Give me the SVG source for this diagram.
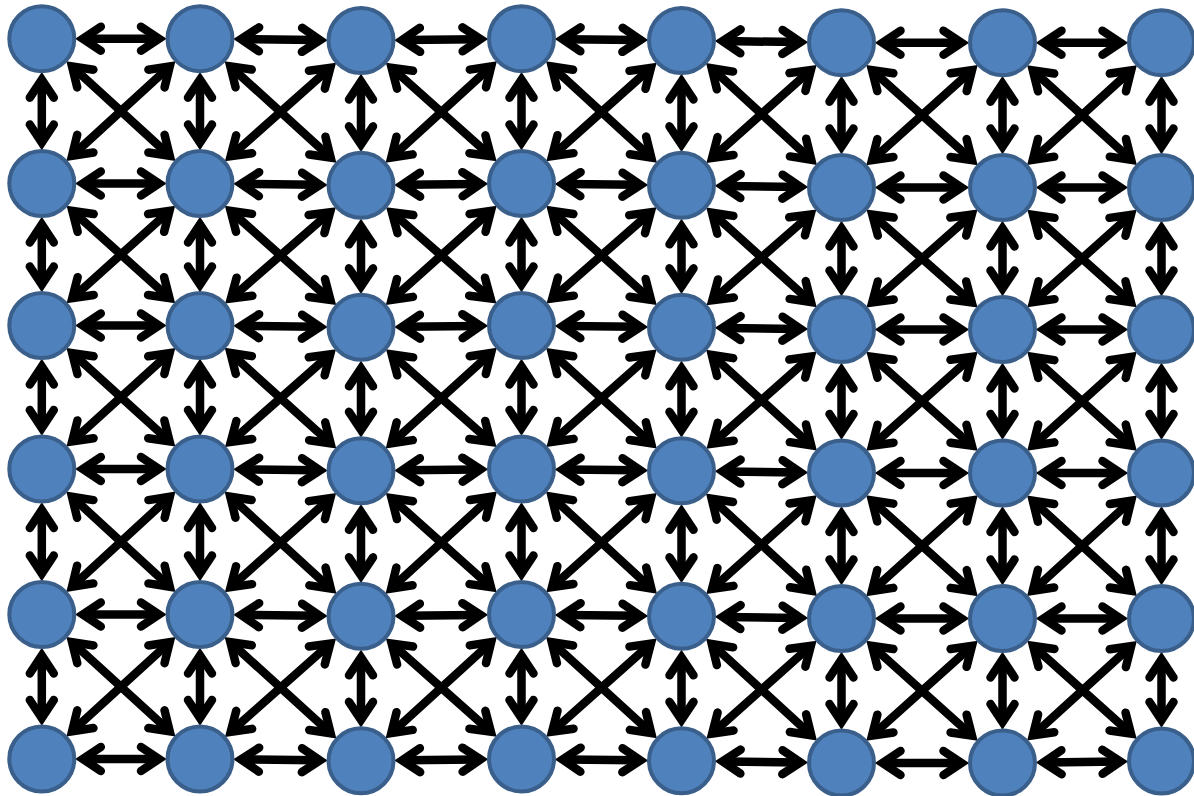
<svg xmlns="http://www.w3.org/2000/svg" width="1194" height="796" viewBox="0 0 1194 796">
<style>
.node circle { fill:#4f81bd; stroke:#3a5f8b; stroke-width:4; }
#connectors line { stroke:#000; stroke-width:8.5; fill:none; stroke-linecap:butt; marker-start:url(#ah); marker-end:url(#ah); }
#connectors .h { stroke-dasharray:0 43.5 73 400; }
#connectors .v { stroke-dasharray:0 43.5 57 400; }
#connectors .d { stroke-dasharray:0 43.5 128 400; }
</style>
<defs>
<marker id="ah" viewBox="-30 -20 80 40" markerWidth="80" markerHeight="40" refX="41" refY="0" orient="auto-start-reverse" markerUnits="userSpaceOnUse" overflow="visible">
<path d="M-18,-12 L0,0 L-18,12" fill="none" stroke="#000" stroke-width="8.5" stroke-linecap="round" stroke-linejoin="miter"/>
</marker>
</defs>
<rect width="1194" height="796" fill="#fff"/>
<g id="connectors">
<line class="h" x1="41.8" y1="38.7" x2="200" y2="38.7"/>
<line class="h" x1="200" y1="38.7" x2="361" y2="40.5"/>
<line class="h" x1="361" y1="40.5" x2="521.5" y2="38.7"/>
<line class="h" x1="521.5" y1="38.7" x2="681.5" y2="40.5"/>
<line class="h" x1="681.5" y1="40.5" x2="841.5" y2="42.7"/>
<line class="h" x1="841.5" y1="42.7" x2="1002.5" y2="42.7"/>
<line class="h" x1="1002.5" y1="42.7" x2="1161.5" y2="42.7"/>
<line class="h" x1="41.8" y1="183.5" x2="200" y2="183.5"/>
<line class="h" x1="200" y1="183.5" x2="361" y2="185.3"/>
<line class="h" x1="361" y1="185.3" x2="521.5" y2="183.5"/>
<line class="h" x1="521.5" y1="183.5" x2="681.5" y2="185.3"/>
<line class="h" x1="681.5" y1="185.3" x2="841.5" y2="187.5"/>
<line class="h" x1="841.5" y1="187.5" x2="1002.5" y2="187.5"/>
<line class="h" x1="1002.5" y1="187.5" x2="1161.5" y2="187.5"/>
<line class="h" x1="41.8" y1="325.5" x2="200" y2="325.5"/>
<line class="h" x1="200" y1="325.5" x2="361" y2="327.3"/>
<line class="h" x1="361" y1="327.3" x2="521.5" y2="325.5"/>
<line class="h" x1="521.5" y1="325.5" x2="681.5" y2="327.3"/>
<line class="h" x1="681.5" y1="327.3" x2="841.5" y2="329.5"/>
<line class="h" x1="841.5" y1="329.5" x2="1002.5" y2="329.5"/>
<line class="h" x1="1002.5" y1="329.5" x2="1161.5" y2="329.5"/>
<line class="h" x1="41.8" y1="469" x2="200" y2="469"/>
<line class="h" x1="200" y1="469" x2="361" y2="470.8"/>
<line class="h" x1="361" y1="470.8" x2="521.5" y2="469"/>
<line class="h" x1="521.5" y1="469" x2="681.5" y2="470.8"/>
<line class="h" x1="681.5" y1="470.8" x2="841.5" y2="473"/>
<line class="h" x1="841.5" y1="473" x2="1002.5" y2="473"/>
<line class="h" x1="1002.5" y1="473" x2="1161.5" y2="473"/>
<line class="h" x1="41.8" y1="614.5" x2="200" y2="614.5"/>
<line class="h" x1="200" y1="614.5" x2="361" y2="616.3"/>
<line class="h" x1="361" y1="616.3" x2="521.5" y2="614.5"/>
<line class="h" x1="521.5" y1="614.5" x2="681.5" y2="616.3"/>
<line class="h" x1="681.5" y1="616.3" x2="841.5" y2="618.5"/>
<line class="h" x1="841.5" y1="618.5" x2="1002.5" y2="618.5"/>
<line class="h" x1="1002.5" y1="618.5" x2="1161.5" y2="618.5"/>
<line class="h" x1="41.8" y1="759" x2="200" y2="759"/>
<line class="h" x1="200" y1="759" x2="361" y2="760.8"/>
<line class="h" x1="361" y1="760.8" x2="521.5" y2="759"/>
<line class="h" x1="521.5" y1="759" x2="681.5" y2="760.8"/>
<line class="h" x1="681.5" y1="760.8" x2="841.5" y2="763"/>
<line class="h" x1="841.5" y1="763" x2="1002.5" y2="763"/>
<line class="h" x1="1002.5" y1="763" x2="1161.5" y2="761"/>

<line class="v" x1="41.8" y1="38.7" x2="41.8" y2="183.5"/>
<line class="v" x1="41.8" y1="183.5" x2="41.8" y2="325.5"/>
<line class="v" x1="41.8" y1="325.5" x2="41.8" y2="469"/>
<line class="v" x1="41.8" y1="469" x2="41.8" y2="614.5"/>
<line class="v" x1="41.8" y1="614.5" x2="41.8" y2="759"/>
<line class="v" x1="200" y1="38.7" x2="200" y2="183.5"/>
<line class="v" x1="200" y1="183.5" x2="200" y2="325.5"/>
<line class="v" x1="200" y1="325.5" x2="200" y2="469"/>
<line class="v" x1="200" y1="469" x2="200" y2="614.5"/>
<line class="v" x1="200" y1="614.5" x2="200" y2="759"/>
<line class="v" x1="361" y1="40.5" x2="361" y2="185.3"/>
<line class="v" x1="361" y1="185.3" x2="361" y2="327.3"/>
<line class="v" x1="361" y1="327.3" x2="361" y2="470.8"/>
<line class="v" x1="361" y1="470.8" x2="361" y2="616.3"/>
<line class="v" x1="361" y1="616.3" x2="361" y2="760.8"/>
<line class="v" x1="521.5" y1="38.7" x2="521.5" y2="183.5"/>
<line class="v" x1="521.5" y1="183.5" x2="521.5" y2="325.5"/>
<line class="v" x1="521.5" y1="325.5" x2="521.5" y2="469"/>
<line class="v" x1="521.5" y1="469" x2="521.5" y2="614.5"/>
<line class="v" x1="521.5" y1="614.5" x2="521.5" y2="759"/>
<line class="v" x1="681.5" y1="40.5" x2="681.5" y2="185.3"/>
<line class="v" x1="681.5" y1="185.3" x2="681.5" y2="327.3"/>
<line class="v" x1="681.5" y1="327.3" x2="681.5" y2="470.8"/>
<line class="v" x1="681.5" y1="470.8" x2="681.5" y2="616.3"/>
<line class="v" x1="681.5" y1="616.3" x2="681.5" y2="760.8"/>
<line class="v" x1="841.5" y1="42.7" x2="841.5" y2="187.5"/>
<line class="v" x1="841.5" y1="187.5" x2="841.5" y2="329.5"/>
<line class="v" x1="841.5" y1="329.5" x2="841.5" y2="473"/>
<line class="v" x1="841.5" y1="473" x2="841.5" y2="618.5"/>
<line class="v" x1="841.5" y1="618.5" x2="841.5" y2="763"/>
<line class="v" x1="1002.5" y1="42.7" x2="1002.5" y2="187.5"/>
<line class="v" x1="1002.5" y1="187.5" x2="1002.5" y2="329.5"/>
<line class="v" x1="1002.5" y1="329.5" x2="1002.5" y2="473"/>
<line class="v" x1="1002.5" y1="473" x2="1002.5" y2="618.5"/>
<line class="v" x1="1002.5" y1="618.5" x2="1002.5" y2="763"/>
<line class="v" x1="1161.5" y1="42.7" x2="1161.5" y2="187.5"/>
<line class="v" x1="1161.5" y1="187.5" x2="1161.5" y2="329.5"/>
<line class="v" x1="1161.5" y1="329.5" x2="1161.5" y2="473"/>
<line class="v" x1="1161.5" y1="473" x2="1161.5" y2="618.5"/>
<line class="v" x1="1161.5" y1="618.5" x2="1161.5" y2="761"/>

<line class="d" x1="41.8" y1="38.7" x2="200" y2="183.5"/>
<line class="d" x1="200" y1="38.7" x2="41.8" y2="183.5"/>
<line class="d" x1="200" y1="38.7" x2="361" y2="185.3"/>
<line class="d" x1="361" y1="40.5" x2="200" y2="183.5"/>
<line class="d" x1="361" y1="40.5" x2="521.5" y2="183.5"/>
<line class="d" x1="521.5" y1="38.7" x2="361" y2="185.3"/>
<line class="d" x1="521.5" y1="38.7" x2="681.5" y2="185.3"/>
<line class="d" x1="681.5" y1="40.5" x2="521.5" y2="183.5"/>
<line class="d" x1="681.5" y1="40.5" x2="841.5" y2="187.5"/>
<line class="d" x1="841.5" y1="42.7" x2="681.5" y2="185.3"/>
<line class="d" x1="841.5" y1="42.7" x2="1002.5" y2="187.5"/>
<line class="d" x1="1002.5" y1="42.7" x2="841.5" y2="187.5"/>
<line class="d" x1="1002.5" y1="42.7" x2="1161.5" y2="187.5"/>
<line class="d" x1="1161.5" y1="42.7" x2="1002.5" y2="187.5"/>

<line class="d" x1="41.8" y1="183.5" x2="200" y2="325.5"/>
<line class="d" x1="200" y1="183.5" x2="41.8" y2="325.5"/>
<line class="d" x1="200" y1="183.5" x2="361" y2="327.3"/>
<line class="d" x1="361" y1="185.3" x2="200" y2="325.5"/>
<line class="d" x1="361" y1="185.3" x2="521.5" y2="325.5"/>
<line class="d" x1="521.5" y1="183.5" x2="361" y2="327.3"/>
<line class="d" x1="521.5" y1="183.5" x2="681.5" y2="327.3"/>
<line class="d" x1="681.5" y1="185.3" x2="521.5" y2="325.5"/>
<line class="d" x1="681.5" y1="185.3" x2="841.5" y2="329.5"/>
<line class="d" x1="841.5" y1="187.5" x2="681.5" y2="327.3"/>
<line class="d" x1="841.5" y1="187.5" x2="1002.5" y2="329.5"/>
<line class="d" x1="1002.5" y1="187.5" x2="841.5" y2="329.5"/>
<line class="d" x1="1002.5" y1="187.5" x2="1161.5" y2="329.5"/>
<line class="d" x1="1161.5" y1="187.5" x2="1002.5" y2="329.5"/>

<line class="d" x1="41.8" y1="325.5" x2="200" y2="469"/>
<line class="d" x1="200" y1="325.5" x2="41.8" y2="469"/>
<line class="d" x1="200" y1="325.5" x2="361" y2="470.8"/>
<line class="d" x1="361" y1="327.3" x2="200" y2="469"/>
<line class="d" x1="361" y1="327.3" x2="521.5" y2="469"/>
<line class="d" x1="521.5" y1="325.5" x2="361" y2="470.8"/>
<line class="d" x1="521.5" y1="325.5" x2="681.5" y2="470.8"/>
<line class="d" x1="681.5" y1="327.3" x2="521.5" y2="469"/>
<line class="d" x1="681.5" y1="327.3" x2="841.5" y2="473"/>
<line class="d" x1="841.5" y1="329.5" x2="681.5" y2="470.8"/>
<line class="d" x1="841.5" y1="329.5" x2="1002.5" y2="473"/>
<line class="d" x1="1002.5" y1="329.5" x2="841.5" y2="473"/>
<line class="d" x1="1002.5" y1="329.5" x2="1161.5" y2="473"/>
<line class="d" x1="1161.5" y1="329.5" x2="1002.5" y2="473"/>

<line class="d" x1="41.8" y1="469" x2="200" y2="614.5"/>
<line class="d" x1="200" y1="469" x2="41.8" y2="614.5"/>
<line class="d" x1="200" y1="469" x2="361" y2="616.3"/>
<line class="d" x1="361" y1="470.8" x2="200" y2="614.5"/>
<line class="d" x1="361" y1="470.8" x2="521.5" y2="614.5"/>
<line class="d" x1="521.5" y1="469" x2="361" y2="616.3"/>
<line class="d" x1="521.5" y1="469" x2="681.5" y2="616.3"/>
<line class="d" x1="681.5" y1="470.8" x2="521.5" y2="614.5"/>
<line class="d" x1="681.5" y1="470.8" x2="841.5" y2="618.5"/>
<line class="d" x1="841.5" y1="473" x2="681.5" y2="616.3"/>
<line class="d" x1="841.5" y1="473" x2="1002.5" y2="618.5"/>
<line class="d" x1="1002.5" y1="473" x2="841.5" y2="618.5"/>
<line class="d" x1="1002.5" y1="473" x2="1161.5" y2="618.5"/>
<line class="d" x1="1161.5" y1="473" x2="1002.5" y2="618.5"/>

<line class="d" x1="41.8" y1="614.5" x2="200" y2="759"/>
<line class="d" x1="200" y1="614.5" x2="41.8" y2="759"/>
<line class="d" x1="200" y1="614.5" x2="361" y2="760.8"/>
<line class="d" x1="361" y1="616.3" x2="200" y2="759"/>
<line class="d" x1="361" y1="616.3" x2="521.5" y2="759"/>
<line class="d" x1="521.5" y1="614.5" x2="361" y2="760.8"/>
<line class="d" x1="521.5" y1="614.5" x2="681.5" y2="760.8"/>
<line class="d" x1="681.5" y1="616.3" x2="521.5" y2="759"/>
<line class="d" x1="681.5" y1="616.3" x2="841.5" y2="763"/>
<line class="d" x1="841.5" y1="618.5" x2="681.5" y2="760.8"/>
<line class="d" x1="841.5" y1="618.5" x2="1002.5" y2="763"/>
<line class="d" x1="1002.5" y1="618.5" x2="841.5" y2="763"/>
<line class="d" x1="1002.5" y1="618.5" x2="1161.5" y2="761"/>
<line class="d" x1="1161.5" y1="618.5" x2="1002.5" y2="763"/>
</g>

<g id="n-r0-c0" class="node"><circle cx="41.8" cy="38.7" r="32.5"/></g>
<g id="n-r0-c1" class="node"><circle cx="200" cy="38.7" r="32.5"/></g>
<g id="n-r0-c2" class="node"><circle cx="361" cy="40.5" r="32.5"/></g>
<g id="n-r0-c3" class="node"><circle cx="521.5" cy="38.7" r="32.5"/></g>
<g id="n-r0-c4" class="node"><circle cx="681.5" cy="40.5" r="32.5"/></g>
<g id="n-r0-c5" class="node"><circle cx="841.5" cy="42.7" r="32.5"/></g>
<g id="n-r0-c6" class="node"><circle cx="1002.5" cy="42.7" r="32.5"/></g>
<g id="n-r0-c7" class="node"><circle cx="1161.5" cy="42.7" r="32.5"/></g>

<g id="n-r1-c0" class="node"><circle cx="41.8" cy="183.5" r="32.5"/></g>
<g id="n-r1-c1" class="node"><circle cx="200" cy="183.5" r="32.5"/></g>
<g id="n-r1-c2" class="node"><circle cx="361" cy="185.3" r="32.5"/></g>
<g id="n-r1-c3" class="node"><circle cx="521.5" cy="183.5" r="32.5"/></g>
<g id="n-r1-c4" class="node"><circle cx="681.5" cy="185.3" r="32.5"/></g>
<g id="n-r1-c5" class="node"><circle cx="841.5" cy="187.5" r="32.5"/></g>
<g id="n-r1-c6" class="node"><circle cx="1002.5" cy="187.5" r="32.5"/></g>
<g id="n-r1-c7" class="node"><circle cx="1161.5" cy="187.5" r="32.5"/></g>

<g id="n-r2-c0" class="node"><circle cx="41.8" cy="325.5" r="32.5"/></g>
<g id="n-r2-c1" class="node"><circle cx="200" cy="325.5" r="32.5"/></g>
<g id="n-r2-c2" class="node"><circle cx="361" cy="327.3" r="32.5"/></g>
<g id="n-r2-c3" class="node"><circle cx="521.5" cy="325.5" r="32.5"/></g>
<g id="n-r2-c4" class="node"><circle cx="681.5" cy="327.3" r="32.5"/></g>
<g id="n-r2-c5" class="node"><circle cx="841.5" cy="329.5" r="32.5"/></g>
<g id="n-r2-c6" class="node"><circle cx="1002.5" cy="329.5" r="32.5"/></g>
<g id="n-r2-c7" class="node"><circle cx="1161.5" cy="329.5" r="32.5"/></g>

<g id="n-r3-c0" class="node"><circle cx="41.8" cy="469" r="32.5"/></g>
<g id="n-r3-c1" class="node"><circle cx="200" cy="469" r="32.5"/></g>
<g id="n-r3-c2" class="node"><circle cx="361" cy="470.8" r="32.5"/></g>
<g id="n-r3-c3" class="node"><circle cx="521.5" cy="469" r="32.5"/></g>
<g id="n-r3-c4" class="node"><circle cx="681.5" cy="470.8" r="32.5"/></g>
<g id="n-r3-c5" class="node"><circle cx="841.5" cy="473" r="32.5"/></g>
<g id="n-r3-c6" class="node"><circle cx="1002.5" cy="473" r="32.5"/></g>
<g id="n-r3-c7" class="node"><circle cx="1161.5" cy="473" r="32.5"/></g>

<g id="n-r4-c0" class="node"><circle cx="41.8" cy="614.5" r="32.5"/></g>
<g id="n-r4-c1" class="node"><circle cx="200" cy="614.5" r="32.5"/></g>
<g id="n-r4-c2" class="node"><circle cx="361" cy="616.3" r="32.5"/></g>
<g id="n-r4-c3" class="node"><circle cx="521.5" cy="614.5" r="32.5"/></g>
<g id="n-r4-c4" class="node"><circle cx="681.5" cy="616.3" r="32.5"/></g>
<g id="n-r4-c5" class="node"><circle cx="841.5" cy="618.5" r="32.5"/></g>
<g id="n-r4-c6" class="node"><circle cx="1002.5" cy="618.5" r="32.5"/></g>
<g id="n-r4-c7" class="node"><circle cx="1161.5" cy="618.5" r="32.5"/></g>

<g id="n-r5-c0" class="node"><circle cx="41.8" cy="759" r="32.5"/></g>
<g id="n-r5-c1" class="node"><circle cx="200" cy="759" r="32.5"/></g>
<g id="n-r5-c2" class="node"><circle cx="361" cy="760.8" r="32.5"/></g>
<g id="n-r5-c3" class="node"><circle cx="521.5" cy="759" r="32.5"/></g>
<g id="n-r5-c4" class="node"><circle cx="681.5" cy="760.8" r="32.5"/></g>
<g id="n-r5-c5" class="node"><circle cx="841.5" cy="763" r="32.5"/></g>
<g id="n-r5-c6" class="node"><circle cx="1002.5" cy="763" r="32.5"/></g>
<g id="n-r5-c7" class="node"><circle cx="1161.5" cy="761" r="32.5"/></g>
</svg>
